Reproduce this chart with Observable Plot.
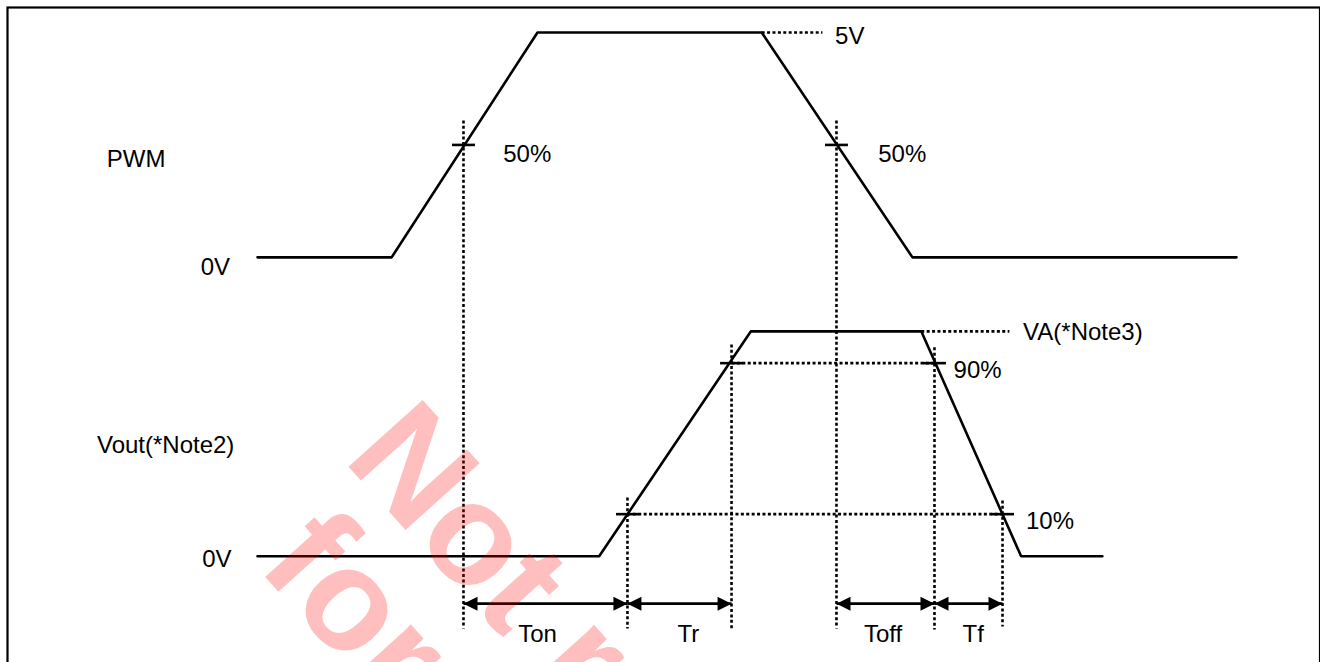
<!DOCTYPE html>
<html>
<head>
<meta charset="utf-8">
<script src="https://cdn.jsdelivr.net/npm/d3@7"></script>
<script src="https://cdn.jsdelivr.net/npm/@observablehq/plot@0.6"></script>
<style>
html, body { margin: 0; padding: 0; background: #fff; overflow: hidden; }
#chart svg { display: block; }
</style>
</head>
<body>
<div id="chart"></div>
<script>
// ---- Data (time in arbitrary units, level as fraction of each signal's full swing) ----
const laneNames = ["PWM", "Vout"];
const laneBase  = [1.329, 0];

const pwmTime   = [0, 13.7, 28.6, 51.5, 66.9, 100];
const pwmLevel  = [0, 0, 1, 1, 0, 0];

const voutTime  = [0, 34.9, 50.4, 67.8, 78.0, 86.3];
const voutLevel = [0, 0, 1, 1, 0, 0];

// threshold crossing points (50% on PWM, 10% / 90% on Vout as drawn)
const crossLane  = ["PWM", "PWM", "Vout", "Vout", "Vout", "Vout"];
const crossTime  = [21.04, 59.14, 37.79, 48.42, 69.15, 76.10];
const crossLevel = [0.5, 0.5, 0.187, 0.8585, 0.8585, 0.187];
const guideTopLevel    = [0.609, 0.609, 0.261, 0.942, 0.929, 0.248]; // in own lane
const guideBottomLevel = [-0.322, -0.322, -0.322, -0.33, -0.326, -0.313]; // in Vout lane

// horizontal reference (dotted) lines
const refLane  = ["PWM", "Vout", "Vout", "Vout"];
const refLevel = [1, 1, 0.8585, 0.187];
const refStart = [51.5, 67.8, 48.42, 37.79];
const refEnd   = [57.7, 76.8, 69.15, 76.10];

// timing intervals
const intervalNames     = ["Ton", "Tr", "Toff", "Tf"];
const intervalStart     = [21.04, 37.79, 59.14, 69.15];
const intervalEnd       = [37.79, 48.42, 69.15, 76.10];
const intervalLabelTime = [28.6, 44.0, 63.9, 73.1];
const intervalLevel      = -0.211;
const intervalLabelLevel = -0.347;

// text labels
const labelText  = ["PWM", "0V", "50%", "50%", "5V", "Vout(*Note2)", "0V", "VA(*Note3)", "90%", "10%"];
const labelLane  = ["PWM", "PWM", "PWM", "PWM", "PWM", "Vout", "Vout", "Vout", "Vout", "Vout"];
const labelTime  = [-15.4, -5.8, 25.1, 63.4, 59.0, -16.4, -5.65, 78.2, 71.1, 78.5];
const labelLevel = [0.436, -0.044, 0.459, 0.459, 0.982, 0.492, -0.015, 0.995, 0.826, 0.154];

// watermark
const watermarkText  = ["Not recommended", "for new design"];
const watermarkTime  = [12.16, 3.37];
const watermarkLevel = [0.568, 0.091];

// ---- Build tables ----
const yOf = (lane, level) => laneBase[laneNames.indexOf(lane)] + level;

const pwm  = pwmTime.map((t, i) => ({t, y: yOf("PWM", pwmLevel[i])}));
const vout = voutTime.map((t, i) => ({t, y: yOf("Vout", voutLevel[i])}));

const crosses = crossTime.map((t, i) => ({
  t, y: yOf(crossLane[i], crossLevel[i]),
  top: yOf(crossLane[i], guideTopLevel[i]),
  bottom: yOf("Vout", guideBottomLevel[i])
}));

const refs = refStart.map((s, i) => ({s, e: refEnd[i], y: yOf(refLane[i], refLevel[i])}));

const intervals = intervalNames.map((name, i) => ({
  name, s: intervalStart[i], e: intervalEnd[i], lt: intervalLabelTime[i],
  y: yOf("Vout", intervalLevel), ly: yOf("Vout", intervalLabelLevel)
}));

const labels = labelText.map((text, i) => ({text, t: labelTime[i], y: yOf(labelLane[i], labelLevel[i])}));
const watermark = watermarkText.map((text, i) => ({text, t: watermarkTime[i], y: yOf("Vout", watermarkLevel[i])}));

// filled arrowheads
const headRight = {draw(ctx) { ctx.moveTo(0, 0); ctx.lineTo(-14, -7); ctx.lineTo(-14, 7); ctx.closePath(); }};
const headLeft  = {draw(ctx) { ctx.moveTo(0, 0); ctx.lineTo(14, -7); ctx.lineTo(14, 7); ctx.closePath(); }};

const tickHalf = 1.17;
const dotted = {stroke: "black", strokeWidth: 2.6, strokeDasharray: "3,2.4"};
const solid = {stroke: "black", strokeWidth: 2.6};
const font = "'Liberation Sans', Arial, Helvetica, sans-serif";

const chart = Plot.plot({
  width: 1320,
  height: 662,
  margin: 0,
  x: {type: "linear", domain: [0, 100], range: [257, 1236], axis: null},
  y: {type: "linear", domain: [0, 2.329], range: [555.7, 32], axis: null},
  style: {fontFamily: font, background: "white", color: "black"},
  marks: [
    Plot.frame({stroke: "black", strokeWidth: 2.2, insetLeft: 7, insetTop: 7, insetRight: 0.5, insetBottom: -20}),
    // dotted guides
    Plot.link(crosses, {x1: "t", x2: "t", y1: "top", y2: "bottom", ...dotted}),
    Plot.link(refs, {x1: "s", x2: "e", y1: "y", y2: "y", ...dotted}),
    // waveforms
    Plot.line(pwm, {x: "t", y: "y", ...solid, strokeLinejoin: "miter"}),
    Plot.line(vout, {x: "t", y: "y", ...solid, strokeLinejoin: "miter"}),
    // crossing ticks
    Plot.link(crosses, {x1: d => d.t - tickHalf, x2: d => d.t + tickHalf, y1: "y", y2: "y", ...solid}),
    // interval arrows
    Plot.link(intervals, {x1: "s", x2: "e", y1: "y", y2: "y", ...solid}),
    Plot.dot(intervals, {x: "e", y: "y", symbol: headRight, fill: "black", stroke: "none", r: 5}),
    Plot.dot(intervals, {x: "s", y: "y", symbol: headLeft, fill: "black", stroke: "none", r: 5}),
    Plot.text(intervals, {x: "lt", y: "ly", text: "name", fontSize: 24, textAnchor: "middle", fill: "black"}),
    // labels
    Plot.text(labels, {x: "t", y: "y", text: "text", fontSize: 24, textAnchor: "start", fill: "black"}),
    // watermark
    Plot.text(watermark, {x: "t", y: "y", text: "text", fontSize: 145, fontWeight: "bold", rotate: 48,
      textAnchor: "start", fill: "red", fillOpacity: 0.25})
  ]
});
document.getElementById("chart").appendChild(chart);
</script>
</body>
</html>
